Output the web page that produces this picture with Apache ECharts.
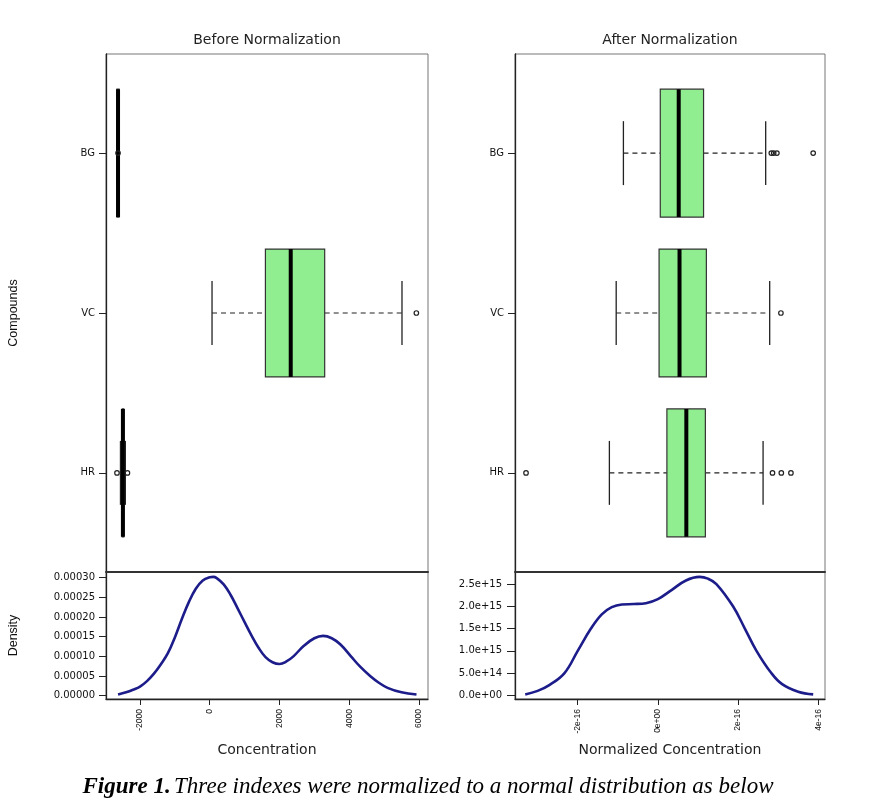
<!DOCTYPE html>
<html>
<head>
<meta charset="utf-8">
<script src="https://cdn.jsdelivr.net/npm/echarts@6/dist/echarts.min.js"></script>
<style>html,body{margin:0;padding:0;background:#fff;}#c{width:875px;height:802px;}</style>
</head>
<body>
<div id="c"></div>
<script>
// ---------- data ----------
const categories = ['HR', 'VC', 'BG'];          // plotted at y = 1, 2, 3
const categoryPos = [1, 2, 3];

// Before normalization: [lowWhisker, Q1, median, Q3, highWhisker]
const beforeHR = [-2560, -2510, -2490, -2465, -2420];
const beforeVC = [66, 1597, 2323, 3297, 5514];
const beforeBG = [-2660, -2660, -2630, -2600, -2600];
const beforeOutlierValues = [-2660, -2360, 5926, -2630];
const beforeOutlierCats = ['HR', 'HR', 'VC', 'BG'];

// After normalization (x in units of 1e-16)
const afterHR = [-1.21, 0.225, 0.71, 1.185, 2.625];
const afterVC = [-1.04, 0.03, 0.54, 1.21, 2.79];
const afterBG = [-0.86, 0.06, 0.52, 1.14, 2.69];
const afterOutlierValues = [-3.29, 2.86, 3.08, 3.32, 3.07, 2.83, 2.89, 2.97, 3.875];
const afterOutlierCats = ['HR', 'HR', 'HR', 'HR', 'VC', 'BG', 'BG', 'BG', 'BG'];

// Density before normalization
const densBeforeX = [-2630, -2400, -2200, -2000, -1800, -1600, -1400, -1200, -1000, -800, -600, -400, -200, 0, 100, 200, 400, 600, 800, 1000, 1200, 1400, 1600, 1800, 2000, 2200, 2400, 2700, 3000, 3250, 3500, 3750, 4050, 4300, 4600, 4850, 5100, 5500, 5930];
const densBeforeY = [0.000003, 0.0000085, 0.000015, 0.000023, 0.000037, 0.000056, 0.00008, 0.000108, 0.000148, 0.000195, 0.000238, 0.000272, 0.000293, 0.000301, 0.000302, 0.000299, 0.000283, 0.000256, 0.000222, 0.000187, 0.000153, 0.000122, 0.000098, 0.000085, 0.0000805, 0.000087, 0.0001, 0.000127, 0.000146, 0.000152, 0.000146, 0.00013, 0.0001, 0.000075, 0.00005, 0.000033, 0.00002, 0.0000085, 0.000003];

// Density after normalization (x in 1e-16, y in 1e15)
const densAfterX = [-3.31, -3.0, -2.71, -2.33, -2.0, -1.67, -1.4, -1.15, -0.9, -0.6, -0.3, 0, 0.35, 0.7, 1.04, 1.25, 1.46, 1.875, 2.17, 2.46, 2.83, 3.1, 3.5, 3.875];
const densAfterY = [0.02, 0.1, 0.23, 0.5, 1.0, 1.5, 1.82, 1.98, 2.04, 2.05, 2.07, 2.16, 2.37, 2.58, 2.66, 2.62, 2.5, 2.0, 1.5, 1.0, 0.5, 0.25, 0.08, 0.02];

// Tick values / labels
const beforeXTicks = [-2000, 0, 2000, 4000, 6000];
const beforeYTicks = [0, 0.00005, 0.0001, 0.00015, 0.0002, 0.00025, 0.0003];
const afterXTicks = [-2, 0, 2, 4];
const afterXTickLabels = ['-2e-16', '0e+00', '2e-16', '4e-16'];
const afterYTicks = [0, 0.5, 1, 1.5, 2, 2.5];
const afterYTickLabels = ['0.0e+00', '5.0e+14', '1.0e+15', '1.5e+15', '2.0e+15', '2.5e+15'];

// ---------- helpers ----------
const FONT = 'DejaVu Sans';
const catIndex = c => categoryPos[categories.indexOf(c)];
function boxData(hr, vc, bg) {
  return [[1].concat(hr), [2].concat(vc), [3].concat(bg)];
}
function outlierData(vals, cats) {
  return vals.map((v, i) => [v, catIndex(cats[i])]);
}
function renderBox(params, api) {
  const pos = api.value(0);
  const lo = api.value(1), q1 = api.value(2), med = api.value(3), q3 = api.value(4), hi = api.value(5);
  const half = 0.4, st = 0.2;
  const c = (x, y) => api.coord([x, y]);
  const pl = c(lo, pos), pq1 = c(q1, pos), pq3 = c(q3, pos), ph = c(hi, pos);
  const a = c(q1, pos + half), b = c(q3, pos - half);
  const dash = { stroke: '#222', lineWidth: 1.1, lineDash: [5, 4] };
  const solid = { stroke: '#222', lineWidth: 1.3 };
  return {
    type: 'group',
    children: [
      { type: 'line', shape: { x1: pl[0], y1: pl[1], x2: pq1[0], y2: pq1[1] }, style: dash },
      { type: 'line', shape: { x1: pq3[0], y1: pq3[1], x2: ph[0], y2: ph[1] }, style: dash },
      { type: 'line', shape: { x1: c(lo, pos + st)[0], y1: c(lo, pos + st)[1], x2: c(lo, pos - st)[0], y2: c(lo, pos - st)[1] }, style: solid },
      { type: 'line', shape: { x1: c(hi, pos + st)[0], y1: c(hi, pos + st)[1], x2: c(hi, pos - st)[0], y2: c(hi, pos - st)[1] }, style: solid },
      { type: 'rect', shape: { x: a[0], y: a[1], width: Math.max(b[0] - a[0], 0.5), height: b[1] - a[1] }, style: { fill: '#90EE90', stroke: '#333', lineWidth: 1.2 } },
      { type: 'line', shape: { x1: c(med, pos + half)[0], y1: c(med, pos + half)[1], x2: c(med, pos - half)[0], y2: c(med, pos - half)[1] }, style: { stroke: '#000', lineWidth: 4 } }
    ]
  };
}

const L = { left: 106, width: 322 };
const R = { left: 515, width: 310 };
const BOX = { top: 54, height: 518 };
const DEN = { top: 572, height: 127 };

const tickLabel = { fontFamily: FONT, fontSize: 10, color: '#111' };
const rotLabel = { fontFamily: 'Liberation Sans', fontSize: 8.5, color: '#111', rotate: 90, margin: 10 };
const darkLine = { show: true, onZero: false, lineStyle: { color: '#222', width: 1.3 } };

function boxYAxis(gridIndex, withName) {
  return {
    type: 'value', gridIndex, min: 0.38, max: 3.62,
    axisLine: darkLine,
    axisTick: { show: true, length: 7, customValues: categoryPos, lineStyle: { color: '#222' } },
    axisLabel: Object.assign({ customValues: categoryPos, margin: 11, formatter: v => categories[categoryPos.indexOf(Math.round(v))] || '' }, tickLabel),
    splitLine: { show: false },
    name: withName ? 'Compounds' : '', nameLocation: 'middle', nameGap: 86, nameRotate: 90,
    nameTextStyle: { fontFamily: 'Liberation Sans', fontSize: 12.5, color: '#111' }
  };
}

const option = {
  animation: false,
  backgroundColor: '#fff',
  grid: [
    Object.assign({ show: true, borderColor: '#777', borderWidth: 1 }, L, BOX),
    Object.assign({ show: true, borderColor: '#777', borderWidth: 1 }, L, DEN),
    Object.assign({ show: true, borderColor: '#777', borderWidth: 1 }, R, BOX),
    Object.assign({ show: true, borderColor: '#777', borderWidth: 1 }, R, DEN)
  ],
  xAxis: [
    { type: 'value', gridIndex: 0, min: -2975, max: 6260, axisLine: { show: true, onZero: false, lineStyle: { color: '#333', width: 2 } }, axisTick: { show: false }, axisLabel: { show: false }, splitLine: { show: false } },
    { type: 'value', gridIndex: 1, min: -2975, max: 6260, axisLine: darkLine,
      axisTick: { show: true, length: 6, customValues: beforeXTicks, lineStyle: { color: '#222' } },
      axisLabel: Object.assign({ customValues: beforeXTicks, formatter: v => String(Math.round(v)) }, rotLabel),
      splitLine: { show: false },
      name: 'Concentration', nameLocation: 'middle', nameGap: 44,
      nameTextStyle: { fontFamily: FONT, fontSize: 14, color: '#222' } },
    { type: 'value', gridIndex: 2, min: -3.565, max: 4.17, axisLine: { show: true, onZero: false, lineStyle: { color: '#333', width: 2 } }, axisTick: { show: false }, axisLabel: { show: false }, splitLine: { show: false } },
    { type: 'value', gridIndex: 3, min: -3.565, max: 4.17, axisLine: darkLine,
      axisTick: { show: true, length: 6, customValues: afterXTicks, lineStyle: { color: '#222' } },
      axisLabel: Object.assign({ customValues: afterXTicks, formatter: v => afterXTickLabels[afterXTicks.indexOf(Math.round(v))] || '' }, rotLabel),
      splitLine: { show: false },
      name: 'Normalized Concentration', nameLocation: 'middle', nameGap: 44,
      nameTextStyle: { fontFamily: FONT, fontSize: 14, color: '#222' } }
  ],
  yAxis: [
    boxYAxis(0, true),
    { type: 'value', gridIndex: 1, min: -0.0000084, max: 0.0003145, axisLine: darkLine,
      axisTick: { show: true, length: 7, customValues: beforeYTicks, lineStyle: { color: '#222' } },
      axisLabel: Object.assign({ customValues: beforeYTicks, margin: 11, formatter: v => v.toFixed(5) }, tickLabel),
      splitLine: { show: false },
      name: 'Density', nameLocation: 'middle', nameGap: 86, nameRotate: 90,
      nameTextStyle: { fontFamily: 'Liberation Sans', fontSize: 12.5, color: '#111' } },
    boxYAxis(2, false),
    { type: 'value', gridIndex: 3, min: -0.083, max: 2.77, axisLine: darkLine,
      axisTick: { show: true, length: 8, customValues: afterYTicks, lineStyle: { color: '#222' } },
      axisLabel: Object.assign({ customValues: afterYTicks, margin: 13, formatter: v => afterYTickLabels[afterYTicks.indexOf(Math.round(v * 2) / 2)] || '' }, tickLabel),
      splitLine: { show: false } }
  ],
  series: [
    { type: 'custom', xAxisIndex: 0, yAxisIndex: 0, renderItem: renderBox, encode: { x: [1, 2, 3, 4, 5], y: 0 }, data: boxData(beforeHR, beforeVC, beforeBG), silent: true },
    { type: 'scatter', xAxisIndex: 0, yAxisIndex: 0, symbol: 'circle', symbolSize: 4.5, itemStyle: { color: 'rgba(255,255,255,0)', borderColor: '#222', borderWidth: 1.2, opacity: 1 }, data: outlierData(beforeOutlierValues, beforeOutlierCats), silent: true, z: 5 },
    { type: 'line', xAxisIndex: 1, yAxisIndex: 1, smooth: 0.4, showSymbol: false, lineStyle: { color: '#1c1c8a', width: 2.6 }, data: densBeforeX.map((x, i) => [x, densBeforeY[i]]), silent: true },
    { type: 'custom', xAxisIndex: 2, yAxisIndex: 2, renderItem: renderBox, encode: { x: [1, 2, 3, 4, 5], y: 0 }, data: boxData(afterHR, afterVC, afterBG), silent: true },
    { type: 'scatter', xAxisIndex: 2, yAxisIndex: 2, symbol: 'circle', symbolSize: 4.5, itemStyle: { color: 'rgba(255,255,255,0)', borderColor: '#222', borderWidth: 1.2, opacity: 1 }, data: outlierData(afterOutlierValues, afterOutlierCats), silent: true, z: 5 },
    { type: 'line', xAxisIndex: 3, yAxisIndex: 3, smooth: 0.4, showSymbol: false, lineStyle: { color: '#1c1c8a', width: 2.6 }, data: densAfterX.map((x, i) => [x, densAfterY[i]]), silent: true }
  ],
  graphic: [
    { type: 'text', x: 267, y: 40, style: { text: 'Before Normalization', fontFamily: FONT, fontSize: 14, fill: '#222', align: 'center', verticalAlign: 'middle' } },
    { type: 'text', x: 670, y: 40, style: { text: 'After Normalization', fontFamily: FONT, fontSize: 14, fill: '#222', align: 'center', verticalAlign: 'middle' } },
    { type: 'text', x: 428, y: 787, style: {
        text: '{b|Figure 1.} {i|Three indexes were normalized to a normal distribution as below}',
        align: 'center', verticalAlign: 'middle',
        rich: {
          b: { fontFamily: 'Liberation Serif', fontSize: 23, fontWeight: 'bold', fontStyle: 'italic', fill: '#000' },
          i: { fontFamily: 'Liberation Serif', fontSize: 23, fontStyle: 'italic', fill: '#000' }
        } } }
  ]
};

const chart = echarts.init(document.getElementById('c'), null, { renderer: 'canvas' });
chart.setOption(option);
</script>
</body>
</html>
